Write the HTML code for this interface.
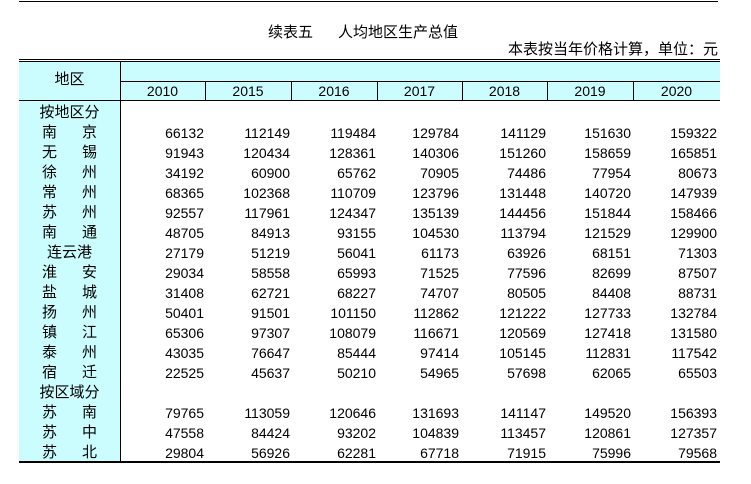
<!DOCTYPE html>
<html><head><meta charset="utf-8"><style>
body{margin:0;background:#fff;width:751px;height:484px;position:relative;overflow:hidden;font-family:"Liberation Sans","Noto Sans CJK SC",sans-serif;color:#000}
div{position:absolute}
.n{font-size:14px;text-align:right;width:80px;line-height:20px}
.l{font-size:15px;line-height:20px;left:19px;width:101px;text-align:center}
.l span{display:inline-block;width:25px}
.y{font-size:14px;top:82px;line-height:18px;text-align:center}
</style></head><body>
<div style="left:19px;top:1px;width:699px;height:1px;background:#000"></div>
<div style="left:268px;top:21px;font-size:15px;white-space:pre">续表五      人均地区生产总值</div>
<div style="right:33px;top:40px;font-size:15px;line-height:19px;border-bottom:1px solid #000">本表按当年价格计算，单位：元</div>
<div style="left:19px;top:59px;width:701px;height:1px;background:#000"></div>
<div style="left:19px;top:61px;width:701px;height:39px;background:#ccfdfe;border-top:1px solid #000"></div>
<div style="left:19px;top:100px;width:101px;height:361px;background:#ccfdfe"></div>
<div style="left:120px;top:61px;width:1px;height:400px;background:#000"></div>
<div style="left:120px;top:81px;width:600px;height:1px;background:#000"></div>
<div style="left:19px;top:100px;width:701px;height:1px;background:#000"></div>
<div style="left:205px;top:81px;width:1px;height:19px;background:#000"></div>
<div style="left:291px;top:81px;width:1px;height:19px;background:#000"></div>
<div style="left:377px;top:81px;width:1px;height:19px;background:#000"></div>
<div style="left:462px;top:81px;width:1px;height:19px;background:#000"></div>
<div style="left:547px;top:81px;width:1px;height:19px;background:#000"></div>
<div style="left:633px;top:81px;width:1px;height:19px;background:#000"></div>
<div class="l" style="top:70px">地区</div>
<div class="y" style="left:120px;width:85px">2010</div>
<div class="y" style="left:205px;width:86px">2015</div>
<div class="y" style="left:291px;width:86px">2016</div>
<div class="y" style="left:377px;width:85px">2017</div>
<div class="y" style="left:462px;width:85px">2018</div>
<div class="y" style="left:547px;width:86px">2019</div>
<div class="y" style="left:633px;width:87px">2020</div>
<div style="left:19px;top:461px;width:701px;height:2px;background:#000"></div>
<div id="rows"></div>
<script>
var d=[["按地区分"],["南　　京",66132,112149,119484,129784,141129,151630,159322],["无　　锡",91943,120434,128361,140306,151260,158659,165851],["徐　　州",34192,60900,65762,70905,74486,77954,80673],["常　　州",68365,102368,110709,123796,131448,140720,147939],["苏　　州",92557,117961,124347,135139,144456,151844,158466],["南　　通",48705,84913,93155,104530,113794,121529,129900],["连云港",27179,51219,56041,61173,63926,68151,71303],["淮　　安",29034,58558,65993,71525,77596,82699,87507],["盐　　城",31408,62721,68227,74707,80505,84408,88731],["扬　　州",50401,91501,101150,112862,121222,127733,132784],["镇　　江",65306,97307,108079,116671,120569,127418,131580],["泰　　州",43035,76647,85444,97414,105145,112831,117542],["宿　　迁",22525,45637,50210,54965,57698,62065,65503],["按区域分"],["苏　　南",79765,113059,120646,131693,141147,149520,156393],["苏　　中",47558,84424,93202,104839,113457,120861,127357],["苏　　北",29804,56926,62281,67718,71915,75996,79568]];
var ends=[205,291,377,460,547,632,718],h="";
d.forEach(function(r,i){var t=103+i*20;h+='<div class="l" style="top:'+t+'px">'+r[0].replace("　　","<span></span>")+'</div>';
for(var j=1;j<r.length;j++)h+='<div class="n" style="top:'+t+'px;left:'+(ends[j-1]-81)+'px">'+r[j]+'</div>';});
document.getElementById("rows").outerHTML=h;
</script>
</body></html>
